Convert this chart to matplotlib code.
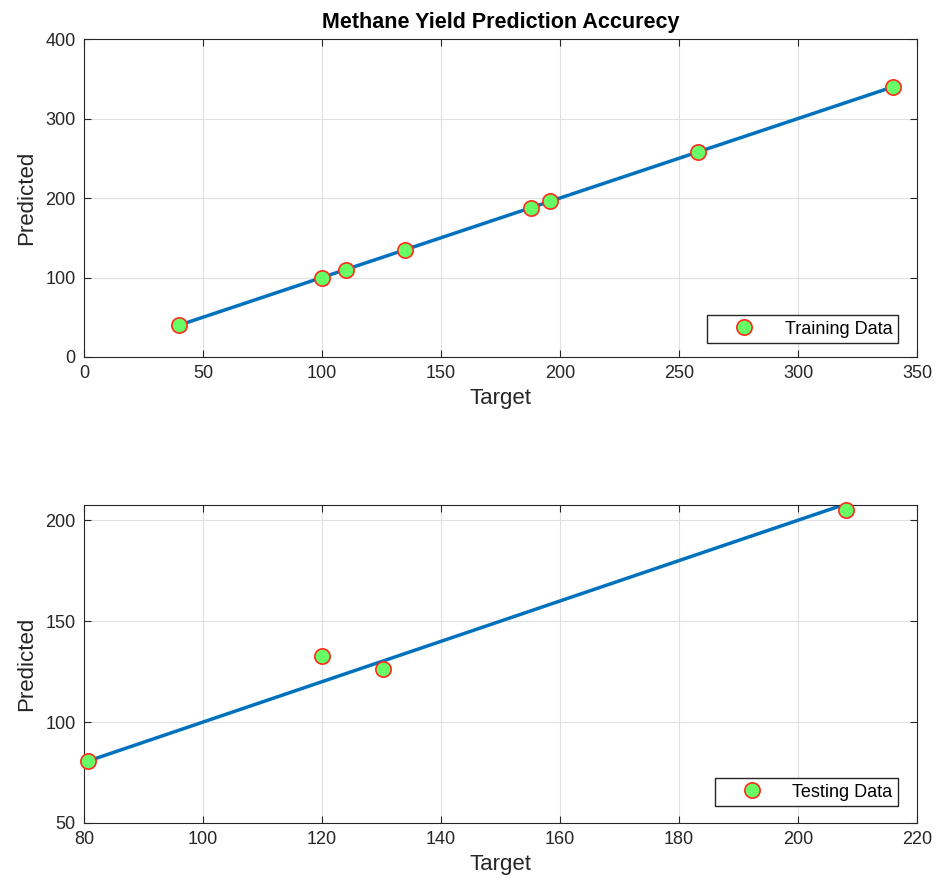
import matplotlib.pyplot as plt
import numpy as np

plt.rcParams['font.family'] = ['Liberation Sans', 'DejaVu Sans']

# training data
train_target = [40, 100, 110, 135, 188, 196, 258, 340]
train_pred = [40, 100, 110, 135, 188, 196, 258, 340]

# testing data
test_target = [80.7, 120, 130.2, 208]
test_pred = [80.7, 132.5, 126.2, 205]

line_color = (0, 0.447, 0.741)
face = '#66ff66'
edge = '#ff2a1a'

fig = plt.figure(figsize=(9.37, 8.88), dpi=100)
ax1 = fig.add_axes([0.0896, 0.598, 0.8891, 0.358])
ax2 = fig.add_axes([0.0896, 0.0732, 0.8891, 0.358])


def style(ax):
    ax.grid(True, color='#e0e0e0', linewidth=0.8)
    ax.set_axisbelow(True)
    ax.tick_params(direction='in', top=True, right=True, labelsize=13,
                   colors='#262626', length=5, pad=6)
    for s in ax.spines.values():
        s.set_color('#262626')
        s.set_linewidth(0.8)


def add_legend(ax, bottom):
    leg = ax.legend(loc='lower right', bbox_to_anchor=(0.977, bottom),
                    borderaxespad=0, fancybox=False, edgecolor='#262626',
                    framealpha=1, fontsize=13, handletextpad=0.5,
                    borderpad=0.3, handlelength=3.5)
    leg.get_frame().set_linewidth(1.0)


# top: training
ax1.plot(train_target, train_pred, 'o', markersize=11, markerfacecolor=face,
         markeredgecolor=edge, markeredgewidth=1.2, label='Training Data', zorder=3)
ax1.plot([min(train_target), max(train_target)], [min(train_target), max(train_target)],
         color=line_color, linewidth=2.5, zorder=2)
ax1.set_xlim(0, 350)
ax1.set_ylim(0, 400)
ax1.set_xticks(np.arange(0, 351, 50))
ax1.set_yticks(np.arange(0, 401, 100))
ax1.set_xlabel('Target', fontsize=16, color='#262626', labelpad=4)
ax1.set_ylabel('Predicted', fontsize=16, color='#262626', labelpad=6)
ax1.set_title('Methane Yield Prediction Accurecy', fontsize=15.5, fontweight='bold', pad=8)
style(ax1)
add_legend(ax1, 0.044)

# bottom: testing
ax2.plot(test_target, test_pred, 'o', markersize=11, markerfacecolor=face,
         markeredgecolor=edge, markeredgewidth=1.2, label='Testing Data', zorder=3,
         clip_on=False)
ax2.plot([min(test_target), max(test_target)], [min(test_target), max(test_target)],
         color=line_color, linewidth=2.5, zorder=2)
ax2.set_xlim(80, 220)
ax2.set_ylim(50, 207.5)
ax2.set_xticks(np.arange(80, 221, 20))
ax2.set_yticks(np.arange(50, 201, 50))
ax2.set_xlabel('Target', fontsize=16, color='#262626', labelpad=4)
ax2.set_ylabel('Predicted', fontsize=16, color='#262626', labelpad=6)
style(ax2)
add_legend(ax2, 0.053)

fig.savefig('out.png', dpi=100)
